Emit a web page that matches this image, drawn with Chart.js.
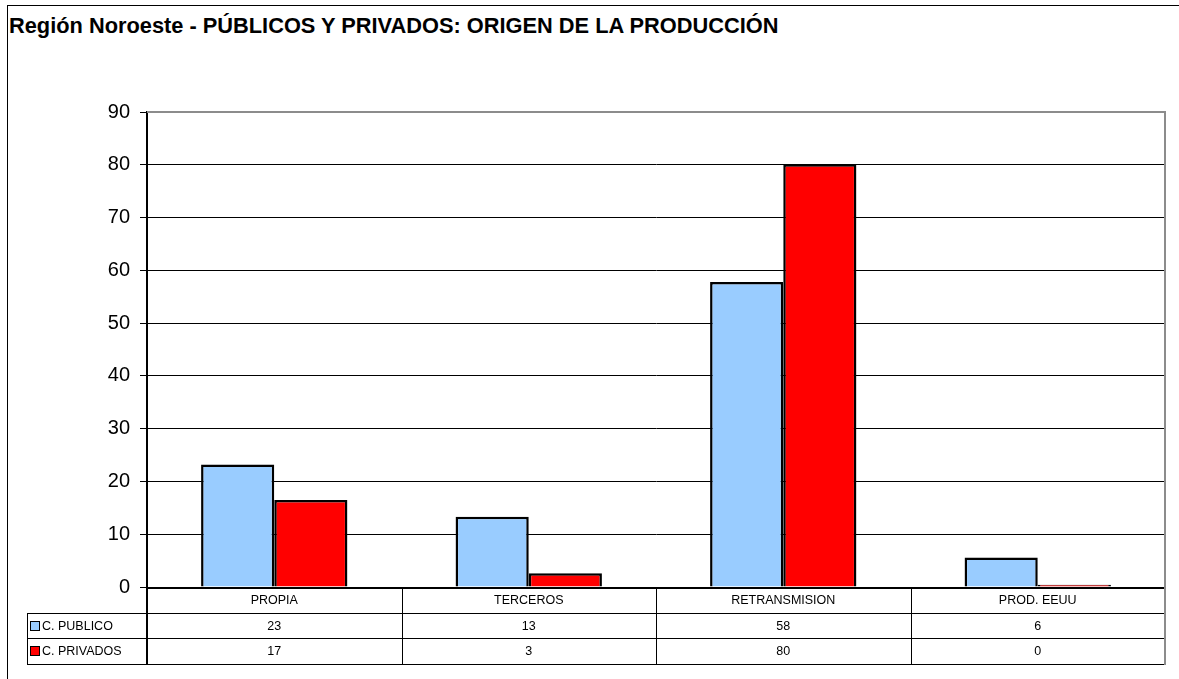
<!DOCTYPE html>
<html>
<head>
<meta charset="utf-8">
<script src="https://cdn.jsdelivr.net/npm/chart.js@4.4.1/dist/chart.umd.min.js"></script>
<style>
  html, body { margin: 0; padding: 0; background: #fff; }
  #wrap { position: relative; width: 1179px; height: 679px; overflow: hidden; font-family: Arial, "Liberation Sans", sans-serif; }
  #frame { position: absolute; left: 7px; top: 5px; width: 1300px; height: 800px; border-left: 1px solid #000; border-top: 1px solid #000; }
  #title { position: absolute; left: 9px; top: 13px; font-weight: bold; font-size: 21.8px; line-height: 25px; color: #000; white-space: nowrap; }
  #chart { position: absolute; left: 0; top: 0; }
  .cell { position: absolute; box-sizing: border-box; font-size: 12.5px; color: #000; line-height: 25px; text-align: center; white-space: nowrap; }
  .key { display: inline-block; width: 8px; height: 8px; border: 1px solid #000; margin: 0 2px 0 3px; vertical-align: -1px; }
  .hline { position: absolute; height: 1px; background: #000; }
  .vline { position: absolute; width: 1px; background: #000; }
</style>
</head>
<body>
<div id="wrap">
  <div id="frame"></div>
  <div id="title">Región Noroeste - PÚBLICOS Y PRIVADOS: ORIGEN DE LA PRODUCCIÓN</div>
  <canvas id="chart" width="1179" height="679"></canvas>
  <div id="table"></div>
</div>
<script>
const categories = ["PROPIA", "TERCEROS", "RETRANSMISION", "PROD. EEUU"];
const publicoValues = [23.2, 13.3, 57.8, 5.6];
const privadosValues = [16.5, 2.6, 80.1, 0.45];
const seriesNames = ["C. PUBLICO", "C. PRIVADOS"];
const seriesColors = ["#99CCFF", "#FF0000"];
const yTicks = [0, 10, 20, 30, 40, 50, 60, 70, 80, 90];

function el(id) {
  return document.getElementById(id);
}

// grey frame on top and right of the plot area
const plotFrame = {
  id: "plotFrame",
  afterDraw(chart) {
    const a = chart.chartArea;
    const c = chart.ctx;
    c.save();
    c.strokeStyle = "#8c8c8c";
    c.lineWidth = 2;
    c.beginPath();
    c.moveTo(a.left, a.top);
    c.lineTo(a.right, a.top);
    c.lineTo(a.right, a.bottom);
    c.stroke();
    c.restore();
  },
};

const chart = new Chart(el("chart").getContext("2d"), {
  type: "bar",
  data: {
    labels: categories,
    datasets: [publicoValues, privadosValues].map((vals, i) => ({
      label: seriesNames[i],
      data: vals,
      backgroundColor: seriesColors[i],
      borderColor: "#000",
      borderWidth: 2.5,
      categoryPercentage: 0.575,
      barPercentage: 1,
    })),
  },
  options: {
    responsive: false,
    animation: false,
    events: [],
    layout: { padding: { left: 0, top: 112, right: 14, bottom: 92 } },
    plugins: { legend: { display: false }, tooltip: { enabled: false } },
    scales: {
      x: {
        display: false,
      },
      y: {
        min: 0,
        max: 90,
        afterFit: (s) => { s.width = 147; },
        afterBuildTicks: (s) => { s.ticks = yTicks.map((v) => ({ value: v })); },
        ticks: {
          color: "#000",
          padding: 10,
          font: { family: "Arial, 'Liberation Sans', sans-serif", size: 20 },
        },
        grid: {
          color: (ctx) => (ctx.tick && ctx.tick.value === 90 ? "#8c8c8c" : "#000"),
          tickColor: "#000",
          tickLength: 7,
          lineWidth: 1,
        },
        border: { color: "#000", width: 2 },
      },
    },
  },
  plugins: [plotFrame],
});

function buildTable() {
  const a = chart.chartArea;
  const xs = chart.scales.x;
  const t = el("table");
  const rowH = 25.5;
  const top = a.bottom;
  const legendLeft = 27;
  const colW = (a.right - a.left) / categories.length;
  let html = "";

  // horizontal lines
  html += `<div class="hline" style="left:${a.left}px;width:${a.right - a.left}px;top:${top}px;height:2px"></div>`;
  for (let r = 1; r <= 3; r++) {
    const y = Math.round(top + r * rowH);
    html += `<div class="hline" style="left:${legendLeft}px;width:${a.right - legendLeft}px;top:${y}px"></div>`;
  }
  // vertical lines
  html += `<div class="vline" style="left:${a.left - 1}px;top:${top}px;height:${3 * rowH + 1}px;width:2px"></div>`;
  html += `<div class="vline" style="left:${legendLeft}px;top:${Math.round(top + rowH)}px;height:${2 * rowH + 1}px"></div>`;
  for (let i = 1; i < categories.length; i++) {
    const x = Math.round(a.left + i * colW);
    html += `<div class="vline" style="left:${x}px;top:${top}px;height:${3 * rowH + 1}px"></div>`;
  }
  html += `<div class="vline" style="left:${a.right - 1}px;top:${top}px;height:${3 * rowH + 1}px;width:2px;background:#8c8c8c"></div>`;

  // category labels
  categories.forEach((c, i) => {
    const cx = xs.getPixelForValue(i);
    html += `<div class="cell" style="left:${cx - colW / 2}px;width:${colW}px;top:${top + 1}px;height:${rowH}px">${c}</div>`;
  });
  // series rows
  [publicoValues, privadosValues].forEach((vals, r) => {
    const y = top + (r + 1) * rowH + 1;
    html += `<div class="cell" style="left:${legendLeft}px;width:${a.left - legendLeft}px;top:${y}px;height:${rowH}px;text-align:left"><span class="key" style="background:${seriesColors[r]}"></span>${seriesNames[r]}</div>`;
    vals.forEach((v, i) => {
      const cx = xs.getPixelForValue(i);
      html += `<div class="cell" style="left:${cx - colW / 2}px;width:${colW}px;top:${y}px;height:${rowH}px">${Math.round(v)}</div>`;
    });
  });
  t.innerHTML = html;
}

buildTable();
</script>
</body>
</html>
